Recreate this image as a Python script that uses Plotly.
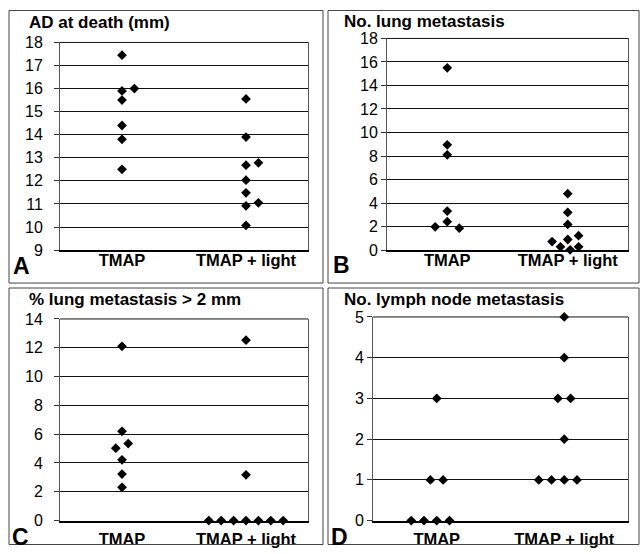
import plotly.graph_objects as go

# ---------------- data ----------------
groups = ["TMAP", "TMAP + light"]

a_tmap = [17.45, 15.9, 16.0, 15.5, 14.4, 13.8, 12.5]
a_tmap_jit = [0, 0, 0.1, 0, 0, 0, 0]
a_light = [15.55, 13.9, 12.68, 12.78, 12.03, 11.48, 10.92, 11.05, 10.07]
a_light_jit = [0, 0, 0, 0.1, 0, 0, 0, 0.1, 0]

b_tmap = [15.5, 8.95, 8.1, 3.32, 2.42, 1.98, 1.86]
b_tmap_jit = [0, 0, 0, 0, 0, -0.1, 0.1]
b_light = [4.8, 3.2, 2.18, 0.9, 1.22, 0.72, 0.28, 0.28, 0.02]
b_light_jit = [0, 0, 0, 0, 0.09, -0.13, -0.06, 0.09, 0.02]

c_tmap = [12.1, 6.2, 5.03, 5.35, 4.22, 3.23, 2.31]
c_tmap_jit = [0, 0, -0.05, 0.05, 0, 0, 0]
c_light = [12.53, 3.18, 0, 0, 0, 0, 0, 0, 0]
c_light_jit = [0, 0, -0.3, -0.2, -0.1, 0, 0.1, 0.2, 0.3]

d_tmap = [3, 1, 1, 0, 0, 0, 0]
d_tmap_jit = [0, -0.05, 0.05, -0.2, -0.1, 0, 0.1]
d_light = [5, 4, 3, 3, 2, 1, 1, 1, 1]
d_light_jit = [0, 0, -0.05, 0.05, 0, -0.2, -0.1, 0, 0.1]

titles = ["AD at death (mm)", "No. lung metastasis",
          "% lung metastasis > 2 mm", "No. lymph node metastasis"]
letters = ["A", "B", "C", "D"]

y_ranges = [(9, 18, 1), (0, 18, 2), (0, 14, 2), (0, 5, 1)]

panels = [
    (a_tmap, a_tmap_jit, a_light, a_light_jit),
    (b_tmap, b_tmap_jit, b_light, b_light_jit),
    (c_tmap, c_tmap_jit, c_light, c_light_jit),
    (d_tmap, d_tmap_jit, d_light, d_light_jit),
]

# ---------------- layout geometry (target pixels) ----------------
W, H = 640, 554
FONT = "Liberation Sans, Arial, sans-serif"
# observed vertical mapping of the capture: shown_y = Y_OFF + Y_SCALE * y
Y_OFF, Y_SCALE = 7.5, 0.971

# plot areas: (left, right, top, bottom)
plot_px = [(60, 308, 42, 250), (387, 628, 38, 250),
           (60, 308, 319, 521), (373, 628, 317, 521)]
# outer boxes
box_px = [(9, 323, 10, 283), (328, 639, 10, 283),
          (9, 323, 288, 553), (328, 639, 288, 553)]
title_px = [(27, 22), (342, 21), (27, 300), (342, 300)]
letter_px = [(11, 266), (331, 265), (10, 537), (329, 537)]
ytick_standoff = [8, 0, 8, 0]
xtick_standoff = [-6, -6, 3, 3]


def px(x):
    return x / W


def py(y):
    yy = (y - Y_OFF) / Y_SCALE
    yy = min(max(yy, 0.5), H - 0.5)
    return 1 - yy / H


fig = go.Figure()
layout = dict(width=W, height=H, margin=dict(l=0, r=0, t=0, b=0),
              paper_bgcolor="white", plot_bgcolor="white",
              showlegend=False, shapes=[], annotations=[])

for i, (tm, tmj, li, lij) in enumerate(panels):
    sfx = "" if i == 0 else str(i + 1)
    xs = [1 + j for j in tmj] + [2 + j for j in lij]
    ys = tm + li
    fig.add_trace(go.Scatter(
        x=xs, y=ys, mode="markers", xaxis="x" + sfx, yaxis="y" + sfx,
        marker=dict(symbol="diamond", size=7.5, color="black",
                    line=dict(width=0)),
        cliponaxis=False, hoverinfo="y"))
    l, r, t, b = plot_px[i]
    y0, y1, dt = y_ranges[i]
    layout["xaxis" + sfx] = dict(
        domain=[px(l), px(r)], anchor="y" + sfx, range=[0.5, 2.5],
        tickvals=[1, 2], ticktext=groups, ticks="", ticklen=0,
        showgrid=False, zeroline=False, showline=True, linecolor="black",
        linewidth=1.5, mirror=False, ticklabelstandoff=xtick_standoff[i],
        tickfont=dict(family=FONT, size=16.5, color="black", weight="bold"))
    layout["yaxis" + sfx] = dict(
        domain=[py(b), py(t)], anchor="x" + sfx, range=[y0, y1], dtick=dt,
        tick0=y0, ticks="outside", ticklen=5, tickcolor="#333",
        showgrid=True, gridcolor="#111", gridwidth=1, zeroline=False,
        showline=True, linecolor="#555", linewidth=1, mirror=True,
        ticklabelstandoff=ytick_standoff[i],
        tickfont=dict(family=FONT, size=16, color="black"))
    # top border of plot area
    layout["shapes"].append(dict(
        type="line", xref="x" + sfx + " domain", yref="y" + sfx + " domain",
        x0=0, x1=1, y0=1, y1=1, line=dict(color="#111", width=1)))
    # outer panel box
    bx0, bx1, by0, by1 = box_px[i]
    layout["shapes"].append(dict(
        type="rect", xref="paper", yref="paper",
        x0=px(bx0), x1=px(bx1), y0=py(by1), y1=py(by0),
        line=dict(color="#444", width=1)))
    tx, ty = title_px[i]
    layout["annotations"].append(dict(
        text="<b>" + titles[i] + "</b>", xref="paper", yref="paper",
        x=px(tx), y=py(ty), xanchor="left", yanchor="middle",
        showarrow=False, font=dict(family=FONT, size=17, color="black")))
    lx, ly = letter_px[i]
    layout["annotations"].append(dict(
        text="<b>" + letters[i] + "</b>", xref="paper", yref="paper",
        x=px(lx), y=py(ly), xanchor="left", yanchor="middle",
        showarrow=False, font=dict(family=FONT, size=23, color="black")))

fig.update_layout(**layout)
fig.write_html(
    "out.html",
    config={"displayModeBar": False},
    post_script=(
        "var s=document.createElement('style');"
        "s.textContent='html,body{margin:0;padding:0;overflow:hidden;}';"
        "document.head.appendChild(s);"
    ),
)
